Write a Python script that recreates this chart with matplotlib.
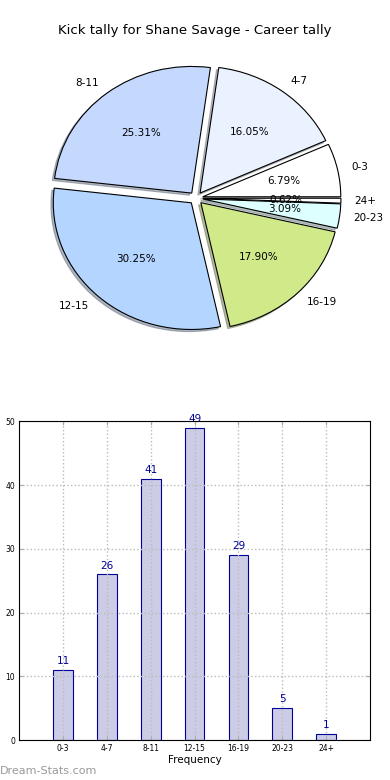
import numpy as np
import matplotlib
matplotlib.use('Agg')
import matplotlib.pyplot as plt

# data
kategoriler = ['0-3', '4-7', '8-11', '12-15', '16-19', '20-23', '24+']
sayilar = [11, 26, 41, 49, 29, 5, 1]
pasta_renkleri = ['#ffffff', '#eaf2ff', '#c5d9ff', '#b3d5ff', '#d0ea8a', '#ddffff', '#ffffff']

fig = plt.figure(figsize=(3.9, 7.8), dpi=100)

fig.text(0.5, 0.961, 'Kick tally for Shane Savage - Career tally',
         ha='center', va='center', fontsize=9.5)

# pie chart (not kept circular, like the original)
ax1 = fig.add_axes([0.06, 0.543, 0.885, 0.406])
ax1.pie(sayilar, labels=kategoriler, colors=pasta_renkleri,
        explode=[0.05] * len(sayilar), autopct='%1.2f%%', pctdistance=0.6,
        labeldistance=1.1, shadow={'ox': -0.012, 'oy': -0.012, 'shade': 0.5},
        startangle=0,
        wedgeprops={'edgecolor': 'black', 'linewidth': 0.8},
        textprops={'fontsize': 7.5})
ax1.set_aspect('auto')
ax1.set_xlim(-1.25, 1.25)
ax1.set_ylim(-1.25, 1.25)
ax1.axis('off')

# bar chart
ax2 = fig.add_axes([0.049, 0.051, 0.9, 0.409])
x = np.arange(len(kategoriler))
ax2.bar(x, sayilar, width=0.45, color='#ccccE6', edgecolor='#000099', linewidth=0.8, zorder=2)
for xi, s in zip(x, sayilar):
    ax2.text(xi, s + 0.6, str(s), ha='center', va='bottom', color='#000099', fontsize=7.5)
ax2.set_xlim(-1, 7)
ax2.set_ylim(0, 50)
ax2.set_xticks(x)
ax2.set_xticklabels(kategoriler)
ax2.set_yticks([0, 10, 20, 30, 40, 50])
ax2.tick_params(labelsize=5.5, direction='in', top=True, right=True,
                color='#aaaaaa', length=3, pad=3)
ax2.grid(True, linestyle=':', color='#bbbbbb', linewidth=1)
ax2.set_axisbelow(False)
for sp in ax2.spines.values():
    sp.set_zorder(5)
ax2.set_xlabel('Frequency', fontsize=7.5, labelpad=1)

fig.text(0.0, 0.012, 'Dream-Stats.com', ha='left', va='center', fontsize=8, color='#999999')

plt.savefig('out.png', dpi=100)
